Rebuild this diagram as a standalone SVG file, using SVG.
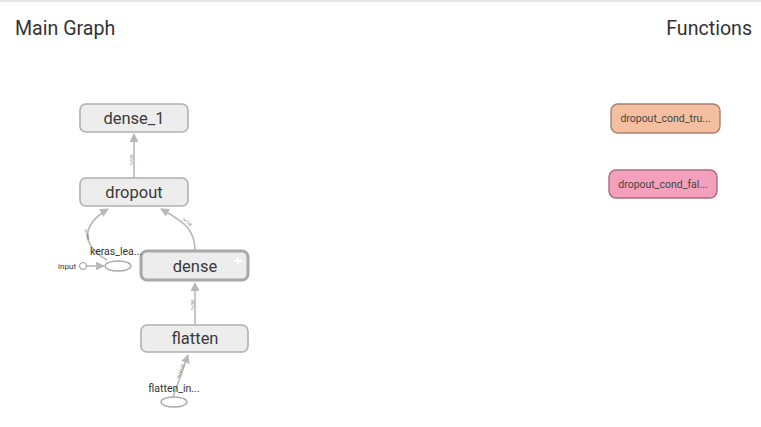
<svg xmlns="http://www.w3.org/2000/svg" width="761" height="427" viewBox="0 0 761 427">
<style>
.title{font-family:Roboto,"Liberation Sans",sans-serif;font-size:19.6px;fill:#333}
.node rect.op{fill:#ededed;stroke:#b0b0b0;stroke-width:1.6}
.lbl{font-family:Roboto,"Liberation Sans",sans-serif;font-size:16.5px;fill:#3a3a3a;text-anchor:middle;dominant-baseline:central}
.small{font-family:Roboto,"Liberation Sans",sans-serif;font-size:10.5px;fill:#333;text-anchor:middle}
.fn{font-family:Roboto,"Liberation Sans",sans-serif;font-size:10.5px;fill:#444;text-anchor:middle;dominant-baseline:central}
.edge{fill:none;stroke:#b8b8b8;stroke-width:1.6;marker-end:url(#arr)}
.elbl{font-family:Roboto,"Liberation Sans",sans-serif;font-size:4px;fill:#777;text-anchor:middle}
.ell{fill:#fff;stroke:#a8a8a8;stroke-width:1.3}
</style>
<defs>
<marker id="arr" viewBox="0 0 10 10" refX="9" refY="5" markerWidth="5.5" markerHeight="5.5" orient="auto" markerUnits="strokeWidth">
<path d="M0,0 L10,5 L0,10 z" fill="#b8b8b8"/>
</marker>
</defs>
<rect x="0" y="0" width="761" height="427" fill="#fff"/>
<rect x="0" y="0" width="761" height="2" fill="#e6e6e6"/>
<text class="title" x="15" y="35">Main Graph</text>
<text class="title" x="752" y="35" text-anchor="end">Functions</text>

<g id="edges">
<path class="edge" d="M134,178 L134,134"/>
<text class="elbl" transform="translate(132.5,160) rotate(-90)">?×128</text>
<path class="edge" d="M195,251 C195,230 185,222 161,209"/>
<text class="elbl" transform="translate(186,223) rotate(38)">?×128</text>
<path class="edge" d="M107,260 C82,246 80,226 108,209"/>
<text class="elbl" transform="translate(86,235) rotate(75)">scalar</text>
<path class="edge" d="M195,325 L195,283"/>
<text class="elbl" transform="translate(193.5,305) rotate(-90)">?×784</text>
<path class="edge" d="M173,397 L188,355"/>
<text class="elbl" transform="translate(182,372) rotate(-70)">?×28×28</text>
<path class="edge" d="M87,266 L104,266"/>
</g>

<g id="dense_1" class="node">
<rect class="op" x="80" y="104" width="108" height="28" rx="6"/>
<text class="lbl" x="134" y="118">dense_1</text>
</g>
<g id="dropout" class="node">
<rect class="op" x="80" y="178" width="108" height="28" rx="6"/>
<text class="lbl" x="134" y="192">dropout</text>
</g>
<g id="dense" class="node">
<rect x="141" y="251" width="107" height="29" rx="6" fill="#ededed" stroke="#a8a8a8" stroke-width="3"/>
<text class="lbl" x="195" y="266">dense</text>
<path d="M238,257 V265 M234,261 H242" stroke="#fff" stroke-width="1.8"/>
</g>
<g id="flatten" class="node">
<rect class="op" x="141" y="325" width="107" height="27" rx="6"/>
<text class="lbl" x="195" y="338.5">flatten</text>
</g>
<g id="flatten_input" class="node">
<ellipse class="ell" cx="174" cy="402" rx="13" ry="5"/>
<text class="small" x="174" y="392">flatten_in...</text>
</g>
<g id="keras_learning_phase" class="node">
<ellipse class="ell" cx="118" cy="266" rx="13" ry="5"/>
<text class="small" x="116" y="255">keras_lea...</text>
</g>
<g id="input" class="node">
<circle cx="83" cy="266" r="3.5" fill="#fff" stroke="#999" stroke-width="1"/>
<text x="76" y="269" font-family="Roboto,'Liberation Sans',sans-serif" font-size="8" fill="#333" text-anchor="end">input</text>
</g>

<g id="dropout_cond_true" class="node">
<rect x="611" y="104" width="109" height="29" rx="7" fill="#f4bfa0" stroke="#a8806c" stroke-width="1.4"/>
<text class="fn" x="665.5" y="118.5">dropout_cond_tru...</text>
</g>
<g id="dropout_cond_false" class="node">
<rect x="609" y="170" width="108" height="28" rx="7" fill="#f4a0bc" stroke="#a86c7e" stroke-width="1.4"/>
<text class="fn" x="663" y="184">dropout_cond_fal...</text>
</g>
</svg>
